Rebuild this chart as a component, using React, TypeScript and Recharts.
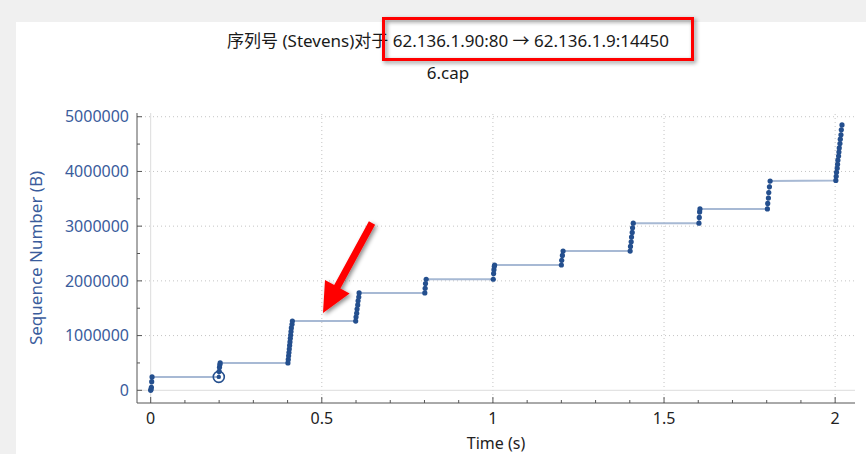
import { LineChart, Line, XAxis, YAxis, ReferenceLine } from "recharts";

// time (s) of each packet and its sequence number (bytes)
const timeS = [
  0.0, 0.001, 0.002, 0.003, 0.004,
  0.199, 0.2, 0.201, 0.202, 0.203,
  0.401, 0.402, 0.403, 0.404, 0.405, 0.406, 0.407, 0.408, 0.409, 0.41, 0.411, 0.413, 0.414,
  0.599, 0.6, 0.602, 0.603, 0.605, 0.606, 0.608, 0.609,
  0.801, 0.802, 0.803, 0.805,
  1.001, 1.002, 1.003, 1.004, 1.005,
  1.2, 1.201, 1.203, 1.205,
  1.401, 1.402, 1.404, 1.405, 1.407, 1.408, 1.41,
  1.602, 1.603, 1.604, 1.605,
  1.802, 1.803, 1.805, 1.806, 1.808, 1.81,
  2.002, 2.003, 2.004, 2.006, 2.007, 2.008, 2.01, 2.011, 2.012, 2.014, 2.015, 2.017, 2.018, 2.02,
];
const seqB = [
  0, 18000, 55000, 158000, 245000,
  245000, 345000, 420000, 465000, 500000,
  500000, 565000, 630000, 690000, 755000, 820000, 885000, 950000, 1010000, 1075000, 1140000, 1205000, 1265000,
  1265000, 1340000, 1410000, 1485000, 1560000, 1635000, 1705000, 1780000,
  1780000, 1865000, 1950000, 2030000,
  2030000, 2135000, 2205000, 2265000, 2290000,
  2290000, 2375000, 2465000, 2545000,
  2545000, 2630000, 2715000, 2800000, 2885000, 2970000, 3055000,
  3055000, 3160000, 3260000, 3315000,
  3315000, 3415000, 3515000, 3615000, 3720000, 3825000,
  3835000, 3910000, 3985000, 4060000, 4130000, 4205000, 4280000, 4355000, 4430000, 4510000, 4590000, 4670000, 4760000, 4850000,
];
const selectedTime = 0.199;

const xTicks = [0, 0.1, 0.2, 0.3, 0.4, 0.5, 0.6, 0.7, 0.8, 0.9, 1, 1.1, 1.2, 1.3, 1.4, 1.5, 1.6, 1.7, 1.8, 1.9, 2];
const xMajor = [0, 0.5, 1, 1.5, 2];
const yTicks = [0, 500000, 1000000, 1500000, 2000000, 2500000, 3000000, 3500000, 4000000, 4500000, 5000000];
const yMajor = [0, 1000000, 2000000, 3000000, 4000000, 5000000];

const title = "序列号 (Stevens)对于 62.136.1.90:80 → 62.136.1.9:14450";
const subtitle = "6.cap";

const FONT = '"Noto Sans", "Noto Sans CJK SC", sans-serif';
const BLUE = "#3a5c9c";
const DOT = "#244f8e";
const AXIS = "#555";
const GRID = "#c4c4c4";

const data = timeS.map((t, i) => ({ t, seq: seqB[i] }));

function XTick(props: any) {
  const { x, y, payload } = props;
  const major = xMajor.includes(payload.value);
  return (
    <g>
      <line x1={x} x2={x} y1={y} y2={y - (major ? 6 : 3)} stroke={AXIS} />
      {major && (
        <text x={x} y={y + 21} textAnchor="middle" fill="#222" fontSize={16} fontFamily={FONT}>
          {payload.value}
        </text>
      )}
    </g>
  );
}

function YTick(props: any) {
  const { x, y, payload } = props;
  const major = yMajor.includes(payload.value);
  return (
    <g>
      <line x1={x} x2={x + (major ? 5 : 3)} y1={y} y2={y} stroke={AXIS} />
      {major && (
        <text x={x - 8} y={y + 5.7} textAnchor="end" fill={BLUE} fontSize={16} fontFamily={FONT}>
          {payload.value}
        </text>
      )}
    </g>
  );
}

function renderDot(props: any) {
  const { cx, cy, index, payload } = props;
  if (payload.t === selectedTime) {
    return (
      <g key={`d-${index}`}>
        <circle cx={cx} cy={cy} r={5.5} fill="none" stroke={DOT} strokeWidth={1.6} />
        <circle cx={cx} cy={cy} r={2.2} fill={DOT} />
      </g>
    );
  }
  return <circle key={`d-${index}`} cx={cx} cy={cy} r={2.6} fill={DOT} />;
}

export default function App() {
  return (
    <div style={{ position: "relative", width: 866, height: 454, background: "#f0f0f0", fontFamily: FONT, overflow: "hidden" }}>
      <style>{"body{margin:0}"}</style>
      <div style={{ position: "absolute", left: 16, top: 22, right: 0, bottom: 0, background: "#fff" }} />

      <div style={{ position: "absolute", left: 0, top: 0 }}>
        <LineChart width={866} height={454} data={data} margin={{ top: 113, right: 11, bottom: 21, left: 57 }}>
          {xMajor.map((v) => (
            <ReferenceLine
              key={`vx-${v}`}
              x={v}
              stroke={v === 0 ? "#dcdcdc" : GRID}
              strokeDasharray={v === 0 ? undefined : "1 3"}
            />
          ))}
          {yMajor.map((v) => (
            <ReferenceLine
              key={`hy-${v}`}
              y={v}
              stroke={v === 0 ? "#dcdcdc" : GRID}
              strokeDasharray={v === 0 ? undefined : "1 3"}
            />
          ))}
          <XAxis
            dataKey="t"
            type="number"
            domain={[-0.04, 2.058]}
            allowDataOverflow
            ticks={xTicks}
            interval={0}
            height={30}
            tickSize={0}
            tickMargin={0}
            tickLine={false}
            axisLine={{ stroke: AXIS }}
            tick={<XTick />}
          />
          <YAxis
            type="number"
            domain={[-232000, 5068000]}
            allowDataOverflow
            ticks={yTicks}
            interval={0}
            width={80}
            tickSize={0}
            tickMargin={0}
            tickLine={false}
            axisLine={{ stroke: AXIS }}
            tick={<YTick />}
          />
          <Line
            dataKey="seq"
            type="linear"
            stroke="#a7b9d4"
            strokeWidth={2}
            dot={renderDot}
            activeDot={false}
            isAnimationActive={false}
          />
        </LineChart>
      </div>

      <svg width={866} height={454} style={{ position: "absolute", left: 0, top: 0, pointerEvents: "none" }}>
        <defs>
          <filter id="sh" x="-20%" y="-20%" width="150%" height="150%">
            <feDropShadow dx="2" dy="2" stdDeviation="2" floodColor="#000" floodOpacity="0.45" />
          </filter>
        </defs>
        <text x={448} y={47} textAnchor="middle" fontSize={17} fill="#1a1a1a" fontFamily={FONT}>
          {title}
        </text>
        <text x={448} y={79} textAnchor="middle" fontSize={17} fill="#1a1a1a" fontFamily={FONT}>
          {subtitle}
        </text>
        <text x={496} y={448.5} textAnchor="middle" fontSize={16} fill="#222" fontFamily={FONT}>
          Time (s)
        </text>
        <text
          transform="translate(42,258) rotate(-90)"
          textAnchor="middle"
          fontSize={17}
          fill={BLUE}
          fontFamily={FONT}
        >
          Sequence Number (B)
        </text>
        <rect x={383.5} y={18.5} width={309} height={41} fill="none" stroke="#ff0000" strokeWidth={3} filter="url(#sh)" />
        <polygon
          points="375.1,224.7 368.9,221.3 334.2,285 325,280 323,313 349.6,293.4 340.4,288.4"
          fill="#ff0000"
          filter="url(#sh)"
        />
      </svg>
    </div>
  );
}
